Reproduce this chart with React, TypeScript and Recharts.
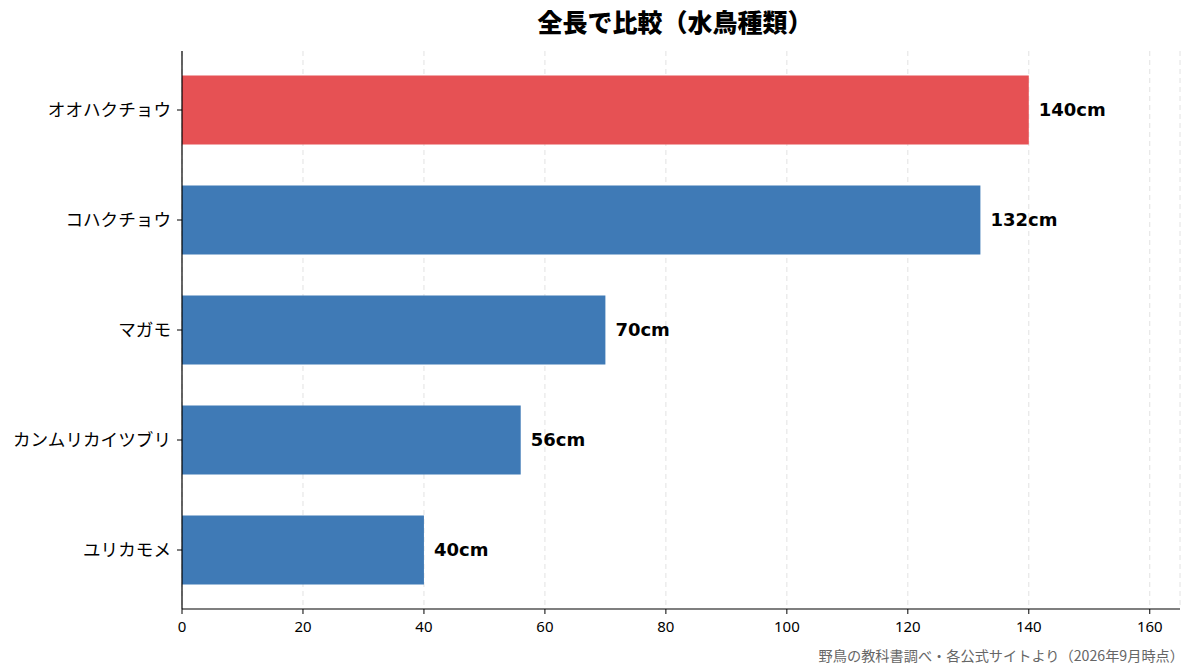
import React from 'react';
import { BarChart, Bar, XAxis, YAxis, CartesianGrid, Cell, LabelList } from 'recharts';

const birds = ['オオハクチョウ', 'コハクチョウ', 'マガモ', 'カンムリカイツブリ', 'ユリカモメ'];
const lengths = [140, 132, 70, 56, 40];
const xTicks = [0, 20, 40, 60, 80, 100, 120, 140, 160];

const data = birds.map((name, i) => ({ name, length: lengths[i] }));

const FONT = '"Noto Sans CJK JP", "Noto Sans", sans-serif';

const App = () => {
  return (
    <div style={{ position: 'absolute', left: 0, top: 0, width: 1193, height: 672, background: '#fff', fontFamily: FONT }}>
      <div
        style={{
          position: 'absolute',
          top: 3,
          left: 0,
          width: 1350,
          textAlign: 'center',
          fontSize: 25,
          fontWeight: 900,
          color: '#000',
        }}
      >
        全長で比較（水鳥種類）
      </div>
      <BarChart
        width={1193}
        height={672}
        data={data}
        layout="vertical"
        margin={{ top: 51, right: 13, bottom: 0, left: 10 }}
        barCategoryGap="18.6%"
      >
        <CartesianGrid horizontal={false} stroke="#e2e2e2" strokeDasharray="5 4" />
        <XAxis
          type="number"
          domain={[0, 165]}
          ticks={xTicks}
          allowDataOverflow
          height={63}
          axisLine={{ stroke: '#000', strokeWidth: 1.2 }}
          tickLine={{ stroke: '#000' }}
          tickSize={5}
          tickMargin={7}
          tick={{ fill: '#000', fontSize: 15, fontFamily: '"Noto Sans", sans-serif' }}
        />
        <YAxis
          type="category"
          dataKey="name"
          width={172}
          padding={{ top: 4, bottom: 4 }}
          axisLine={{ stroke: '#000', strokeWidth: 1.2 }}
          tickLine={{ stroke: '#000' }}
          tickSize={5}
          tickMargin={6}
          tick={{ fill: '#000', fontSize: 17.6, fontFamily: FONT }}
        />
        <Bar dataKey="length" isAnimationActive={false}>
          {data.map((d, i) => (
            <Cell key={d.name} fill={i === 0 ? '#E65154' : '#3F7AB6'} />
          ))}
          <LabelList
            dataKey="length"
            position="right"
            offset={10}
            formatter={(v: number) => `${v}cm`}
            style={{ fill: '#000', fontSize: 18, fontWeight: 700, fontFamily: '"DejaVu Sans", sans-serif' }}
          />
        </Bar>
      </BarChart>
      <div
        style={{
          position: 'absolute',
          right: 9,
          top: 645,
          fontSize: 14.2,
          color: '#666',
        }}
      >
        野鳥の教科書調べ・各公式サイトより（2026年9月時点）
      </div>
    </div>
  );
};

export default App;
